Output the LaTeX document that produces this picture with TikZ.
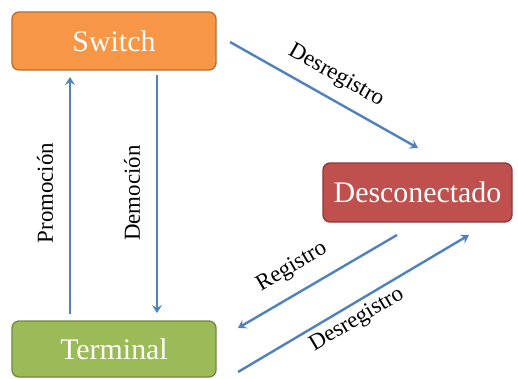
\documentclass[tikz,border=0pt]{standalone}
\usepackage{fontspec}
\setmainfont{Liberation Serif}
\newfontfamily\tmsfont{Liberation Serif}
\usetikzlibrary{arrows.meta}
\definecolor{orfill}{HTML}{F79646}
\definecolor{ordraw}{HTML}{B66D31}
\definecolor{rdfill}{HTML}{C0504D}
\definecolor{rddraw}{HTML}{8C3836}
\definecolor{grfill}{HTML}{9BBB59}
\definecolor{grdraw}{HTML}{71893F}
\definecolor{arr}{HTML}{4F81BD}
\tikzset{
  box/.style={rounded corners=7bp, line width=1.3bp, text=white, inner sep=0pt,
    font=\tmsfont\fontsize{30}{34}\selectfont},
  conn/.style={draw=arr, line width=2.4bp, -{Stealth[length=8bp,width=10bp,inset=3bp]}},
  lbl/.style={font=\tmsfont\fontsize{23}{26}\selectfont, inner sep=0pt}
}
\begin{document}
\begin{tikzpicture}[x=1bp,y=-1bp]
\useasboundingbox (0,0) rectangle (518,378);
\node[box, fill=orfill, draw=ordraw, minimum width=204bp, minimum height=58bp] (switch) at (114,41) {Switch};
\node[box, fill=rdfill, draw=rddraw, minimum width=189bp, minimum height=59bp] (desc) at (417.5,192.5) {Desconectado};
\node[box, fill=grfill, draw=grdraw, minimum width=204bp, minimum height=56bp] (term) at (114,349) {Terminal};

\coordinate (pa) at (70,314);
\coordinate (pb) at (70,77);
\coordinate (da) at (157,75);
\coordinate (db) at (157,313);
\coordinate (ta) at (230,42);
\coordinate (tb) at (418,148);
\coordinate (ra) at (397,235);
\coordinate (rb) at (238,328);
\coordinate (ua) at (238,372);
\coordinate (ub) at (469,235);

\draw[conn] (pa) -- (pb);
\draw[conn] (da) -- (db);
\draw[conn] (ta) -- (tb);
\draw[conn] (ra) -- (rb);
\draw[conn] (ua) -- (ub);

\node[lbl, rotate=90] (lp) at (45,193) {Promoción};
\node[lbl, rotate=90] (ld) at (132,193) {Democión};
\node[lbl, rotate=-29.4] (lt) at (336,76) {Desregistro};
\node[lbl, rotate=30.3] (lr) at (292,267) {Registro};
\node[lbl, rotate=30.8] (lu) at (357,320) {Desregistro};
\end{tikzpicture}
\end{document}
